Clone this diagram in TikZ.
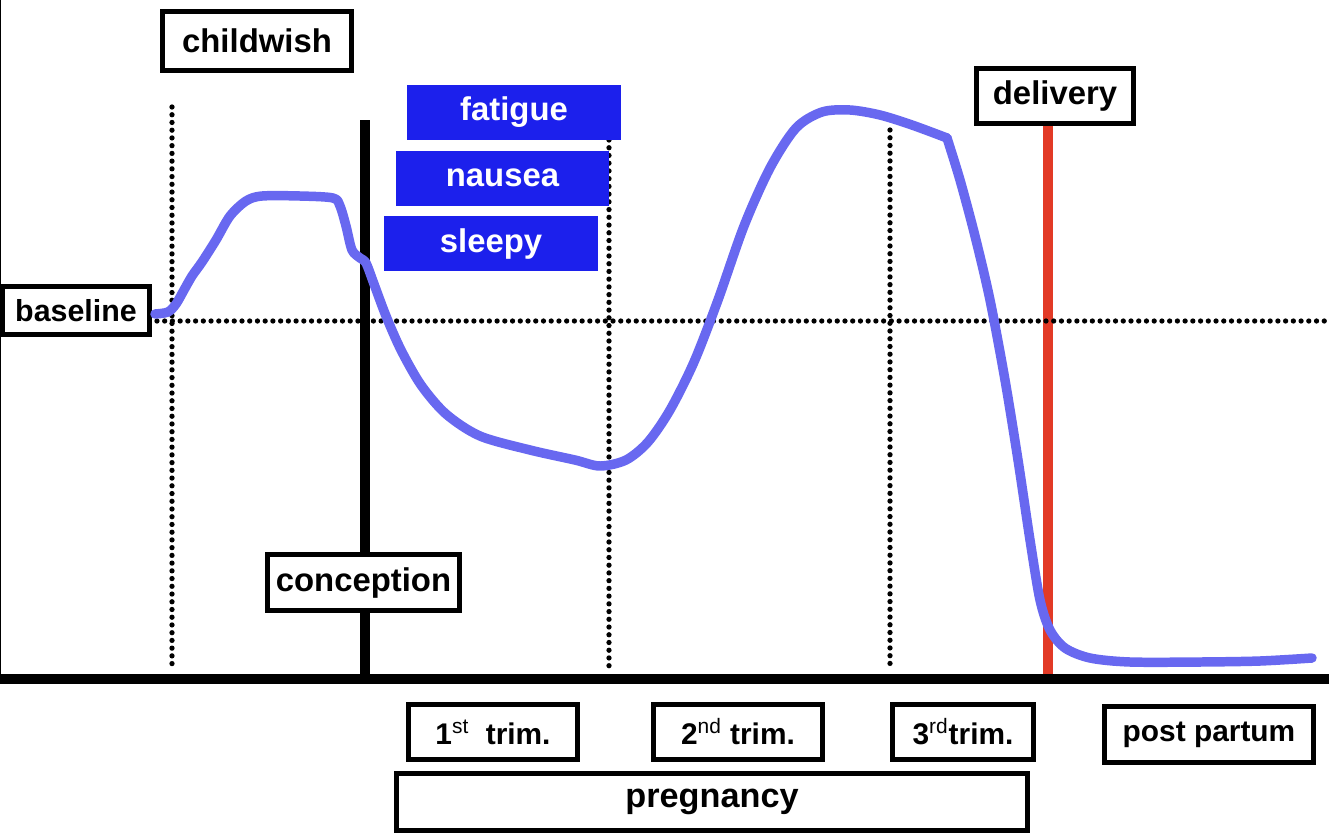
\documentclass[tikz,border=0pt]{standalone}
\usepackage{fontspec}
\setmainfont{Liberation Sans}
\definecolor{symptomblue}{RGB}{28,32,236}
\definecolor{curveblue}{RGB}{104,104,240}
\definecolor{deliveryred}{RGB}{226,58,38}

\begin{document}
\begin{tikzpicture}
[x=0.02cm,y=-0.02cm,
  boxDecorate/.style={draw,line width=2.8pt,fill=white,inner sep=0pt,
    font=\fontsize{18.7}{22}\selectfont\bfseries},
  symptomDecorate/.style={fill=symptomblue,text=white,inner sep=0pt,
    minimum width=4.28cm,minimum height=1.1cm,
    font=\fontsize{18.7}{22}\selectfont\bfseries},
  dotDecorate/.style={line width=3pt,dash pattern=on 0pt off 4.4pt,line cap=round},
  curveDecorate/.style={line width=5.4pt,color=curveblue,line cap=round,line join=round}]
\useasboundingbox (0,0) rectangle (1329,836);
%% frame edge and time axis
\draw[line width=0.6pt] (0.5,0) -- (0.5,679);
\coordinate (axisL) at (0,679);
\coordinate (axisR) at (1329,679);
\draw[line width=5.6pt] (axisL) -- (axisR);
%% dotted guides
\foreach \guidename/\x/\ytop in {wish/172/107, trimA/609/140, trimB/890/130}
{
  \coordinate (\guidename top) at (\x,\ytop);
  \coordinate (\guidename bot) at (\x,667);
  \draw[dotDecorate] (\guidename top) -- (\guidename bot);
}
\coordinate (baseR) at (1329,321);
%% markers
\coordinate (concTop) at (365,120);
\coordinate (concBot) at (365,679);
\draw[line width=5.6pt] (concTop) -- (concBot);
\node (delivery) at (1055,96) [boxDecorate,minimum width=3.14cm,minimum height=1.10cm] {delivery};
\coordinate (delivBot) at (1048,674);
\draw[line width=5.6pt,deliveryred] (delivery.south -| delivBot) -- (delivBot);
%% labels
\node (baseline) at (76,310.5) [boxDecorate,minimum width=2.94cm,minimum height=0.96cm,
  font=\fontsize{17.3}{20}\selectfont\bfseries] {baseline};
\draw[dotDecorate] (baseline.east |- baseR) ++(5,0) coordinate (baseL) (baseL) -- (baseR);
\node (childwish) at (257,41) [boxDecorate,minimum width=3.78cm,minimum height=1.18cm] {childwish};
\node (conception) at (363.5,582.5) [boxDecorate,minimum width=3.84cm,minimum height=1.12cm] {conception};
\node (fatigue) at (514,112.5) [symptomDecorate] {fatigue};
\node (nausea) at (502.5,178) [symptomDecorate] {nausea};
\node (sleepy) at (491,243.5) [symptomDecorate] {sleepy};
%% course of the curve
\draw[curveDecorate] plot[smooth,tension=0.5] coordinates {
  (155,314) (168,312) (176,304) (184,290) (192,276) (202,262) (216,240)
  (230,216) (246,201) (262,196) (300,196) (333,198) (340,206) (346,226)
  (352,250) (360,258) (366,263) (374,284) (386,316) (401,350) (421,385)
  (446,414) (480,436) (530,450) (575,460) (600,466) (626,460) (648,442)
  (670,410) (694,362) (718,300) (744,226) (770,168) (796,128) (822,112)
  (850,110) (880,115) (912,125) (947,138)};
\draw[curveDecorate] plot[smooth,tension=0.5] coordinates {
  (947,138) (960,180) (975,236) (990,300) (1005,380) (1018,460) (1030,540)
  (1040,600) (1050,630) (1065,648) (1090,658) (1130,662) (1200,662)
  (1260,661) (1312,658)};
%% periods below the axis
\foreach \nodename/\x/\w/\txt in {
  trimI/493/3.38/{1\textsuperscript{\mdseries st}\ \ trim.},
  trimII/738/3.38/{2\textsuperscript{\mdseries nd} trim.},
  trimIII/963/2.82/{3\textsuperscript{\mdseries rd}trim.}}
{
  \node (\nodename) at (\x,732) [boxDecorate,minimum width=\w cm,minimum height=1.10cm,
    font=\fontsize{17}{20}\selectfont\bfseries] {\txt};
}
\node (postpartum) at (1209,734.5) [boxDecorate,minimum width=4.18cm,minimum height=1.12cm,
  font=\fontsize{17}{20}\selectfont\bfseries] {post partum};
\node (pregnancy) at (712,802) [boxDecorate,minimum width=12.62cm,minimum height=1.14cm,
  font=\fontsize{19.5}{22}\selectfont\bfseries] {pregnancy};
\end{tikzpicture}
\end{document}
